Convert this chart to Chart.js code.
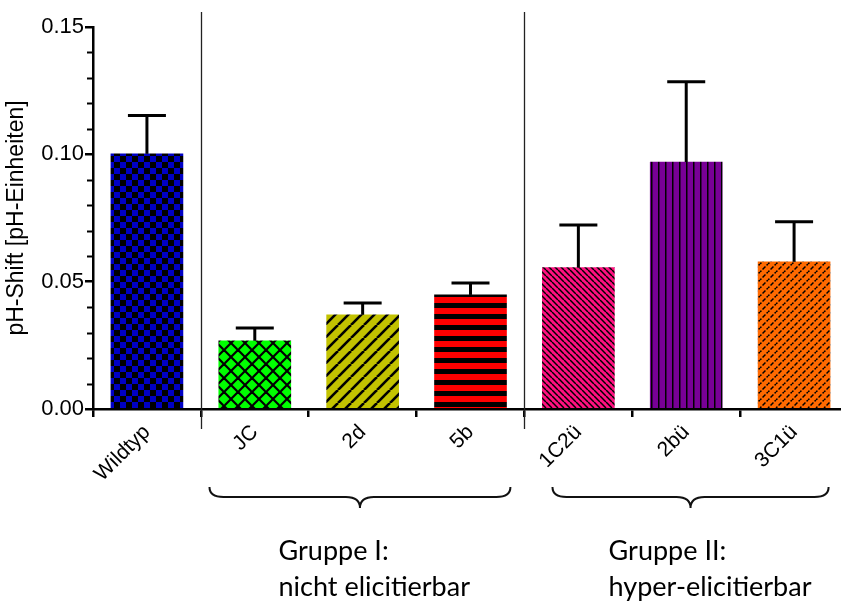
<!DOCTYPE html>
<html>
<head>
<meta charset="utf-8">
<script src="https://cdn.jsdelivr.net/npm/chart.js@4/dist/chart.umd.min.js"></script>
<style>
  html, body { margin: 0; padding: 0; background: #fff; }
  #wrap { width: 841px; height: 602px; position: relative; }
</style>
</head>
<body>
<div id="wrap"><canvas id="c" width="841" height="602"></canvas></div>
<script>
// Strains and measured pH shift (mean and standard deviation)
const categories = ['Wildtyp', 'JC', '2d', '5b', '1C2ü', '2bü', '3C1ü'];
const meanShift = [0.1002, 0.0268, 0.0370, 0.0448, 0.0555, 0.0970, 0.0578];
const sdShift   = [0.0150, 0.0050, 0.0046, 0.0047, 0.0168, 0.0315, 0.0157];
const yTicks = [0, 0.05, 0.10, 0.15];

// Groups shown with braces below the axis (positions in category units)
const groups = [
  { from: 0.58, to: 3.37, lines: ['Gruppe I:', 'nicht elicitierbar'], textAt: 1.22 },
  { from: 3.76, to: 6.32, lines: ['Gruppe II:', 'hyper-elicitierbar'], textAt: 4.28 }
];
const separators = [0.5, 3.5];

function makePattern(size, draw) {
  const c = document.createElement('canvas');
  c.width = size; c.height = size;
  const g = c.getContext('2d');
  draw(g, size);
  return g.createPattern(c, 'repeat');
}

const patterns = [
  // blue / black checkerboard
  makePattern(12, (g, s) => {
    g.fillStyle = '#0000c4'; g.fillRect(0, 0, s, s);
    g.fillStyle = '#000'; g.fillRect(0, 0, 6, 6); g.fillRect(6, 6, 6, 6);
  }),
  // green with diagonal cross hatch
  makePattern(14, (g, s) => {
    g.fillStyle = '#00ff00'; g.fillRect(0, 0, s, s);
    g.strokeStyle = '#000'; g.lineWidth = 2.2;
    for (let k = -1; k <= 1; k++) {
      g.beginPath(); g.moveTo(k * s, 0); g.lineTo(k * s + s, s); g.stroke();
      g.beginPath(); g.moveTo(k * s + s, 0); g.lineTo(k * s, s); g.stroke();
    }
  }),
  // olive with forward diagonal lines
  makePattern(13, (g, s) => {
    g.fillStyle = '#c2c200'; g.fillRect(0, 0, s, s);
    g.strokeStyle = '#000'; g.lineWidth = 2.6;
    for (let k = -1; k <= 1; k++) {
      g.beginPath(); g.moveTo(k * s, s); g.lineTo(k * s + s, 0); g.stroke();
    }
  }),
  // red with horizontal black stripes
  makePattern(11, (g, s) => {
    g.fillStyle = '#ff0000'; g.fillRect(0, 0, s, s);
    g.fillStyle = '#000'; g.fillRect(0, 6, s, 5);
  }),
  // pink with dense back-diagonal lines
  makePattern(6, (g, s) => {
    g.fillStyle = '#ff1080'; g.fillRect(0, 0, s, s);
    g.strokeStyle = '#000'; g.lineWidth = 1.5;
    for (let k = -1; k <= 1; k++) {
      g.beginPath(); g.moveTo(k * s, 0); g.lineTo(k * s + s, s); g.stroke();
    }
  }),
  // purple with vertical lines
  makePattern(7, (g, s) => {
    g.fillStyle = '#780096'; g.fillRect(0, 0, s, s);
    g.fillStyle = '#000'; g.fillRect(0, 0, 1.5, s);
  }),
  // orange with diagonal dashes (brick-like)
  makePattern(8, (g, s) => {
    g.fillStyle = '#ff6a00'; g.fillRect(0, 0, s, s);
    g.strokeStyle = '#000'; g.lineWidth = 1.5;
    for (let k = -1; k <= 1; k++) {
      g.beginPath(); g.moveTo(k * s, s); g.lineTo(k * s + s, 0); g.stroke();
    }
    g.strokeStyle = '#ff6a00'; g.lineWidth = 1.6;
    g.beginPath(); g.moveTo(0, 4); g.lineTo(4, 8); g.stroke();
    g.beginPath(); g.moveTo(4, 0); g.lineTo(8, 4); g.stroke();
  })
];

const FONT = "'Liberation Sans', Arial, sans-serif";

const decorations = {
  id: 'decorations',
  beforeDatasetsDraw(chart) {
    const { ctx, scales: { x, y } } = chart;
    ctx.save();
    ctx.strokeStyle = '#222'; ctx.lineWidth = 1.3;
    separators.forEach(v => {
      const px = Math.round(x.getPixelForValue(v)) + 0.5;
      ctx.beginPath(); ctx.moveTo(px, 12); ctx.lineTo(px, y.bottom + 20); ctx.stroke();
    });
    ctx.restore();
  },
  afterDatasetsDraw(chart) {
    const { ctx, scales: { x, y } } = chart;
    ctx.save();
    // error bars (upper whisker with cap)
    ctx.strokeStyle = '#000'; ctx.lineWidth = 3; ctx.lineCap = 'butt';
    meanShift.forEach((m, i) => {
      const px = x.getPixelForValue(i);
      const yb = y.getPixelForValue(m);
      const yt = y.getPixelForValue(m + sdShift[i]);
      ctx.beginPath(); ctx.moveTo(px, yb); ctx.lineTo(px, yt); ctx.stroke();
      ctx.beginPath(); ctx.moveTo(px - 19, yt); ctx.lineTo(px + 19, yt); ctx.stroke();
    });
    // minor ticks on the value axis
    ctx.lineWidth = 2;
    for (let k = 1; k < 15; k++) {
      if (k % 5 === 0) continue;
      const py = Math.round(y.getPixelForValue(k / 100)) + 0.5;
      ctx.beginPath(); ctx.moveTo(y.right - 6, py); ctx.lineTo(y.right, py); ctx.stroke();
    }
    // group braces and captions
    ctx.lineWidth = 2; ctx.strokeStyle = '#111';
    groups.forEach(gp => {
      const x0 = x.getPixelForValue(gp.from), x1 = x.getPixelForValue(gp.to);
      const xm = (x0 + x1) / 2;
      const top = y.bottom + 78, flat = y.bottom + 88, tip = y.bottom + 99;
      ctx.beginPath();
      ctx.moveTo(x0, top);
      ctx.quadraticCurveTo(x0, flat, x0 + 14, flat);
      ctx.lineTo(xm - 14, flat);
      ctx.quadraticCurveTo(xm, flat, xm, tip);
      ctx.quadraticCurveTo(xm, flat, xm + 14, flat);
      ctx.lineTo(x1 - 14, flat);
      ctx.quadraticCurveTo(x1, flat, x1, top);
      ctx.stroke();
      ctx.fillStyle = '#000';
      ctx.font = "27px Lato, 'Open Sans', sans-serif";
      ctx.textAlign = 'left'; ctx.textBaseline = 'alphabetic';
      const tx = x.getPixelForValue(gp.textAt);
      ctx.fillText(gp.lines[0], tx, y.bottom + 151);
      ctx.fillText(gp.lines[1], tx, y.bottom + 187);
    });
    ctx.restore();
  }
};

new Chart(document.getElementById('c'), {
  type: 'bar',
  data: {
    datasets: [{
      data: meanShift.map((v, i) => ({ x: i, y: v })),
      backgroundColor: patterns,
      borderWidth: 0,
      barThickness: 72
    }]
  },
  options: {
    responsive: false,
    animation: false,
    layout: { padding: { top: 27, left: 0, right: 0, bottom: 0 } },
    plugins: { legend: { display: false }, tooltip: { enabled: false } },
    scales: {
      x: {
        type: 'linear',
        min: -0.5,
        max: 6.435,
        offset: false,
        afterBuildTicks: s => { s.ticks = categories.map((_, i) => ({ value: i })); },
        afterFit: s => { s.height = 602 - 409; },
        ticks: {
          autoSkip: false,
          maxRotation: 45, minRotation: 45,
          color: '#000',
          font: { family: FONT, size: 21 },
          padding: 3,
          callback: v => categories[v]
        },
        grid: { drawOnChartArea: false, drawTicks: true, tickLength: 8, color: '#000', lineWidth: 2.5 },
        border: { display: true, color: '#000', width: 2.5 }
      },
      y: {
        min: 0, max: 0.15,
        afterBuildTicks: s => { s.ticks = yTicks.map(v => ({ value: v })); },
        afterFit: s => { s.width = 93; },
        ticks: {
          color: '#000',
          font: { family: FONT, size: 22 },
          padding: 1,
          callback: v => v.toFixed(2)
        },
        title: {
          display: true,
          text: 'pH-Shift [pH-Einheiten]',
          color: '#000',
          font: { family: FONT, size: 23 },
          padding: { top: 3, bottom: 0 }
        },
        grid: { drawOnChartArea: false, drawTicks: true, tickLength: 8, color: '#000', lineWidth: 2.5 },
        border: { display: true, color: '#000', width: 2.5 }
      }
    }
  },
  plugins: [decorations]
});
</script>
</body>
</html>
